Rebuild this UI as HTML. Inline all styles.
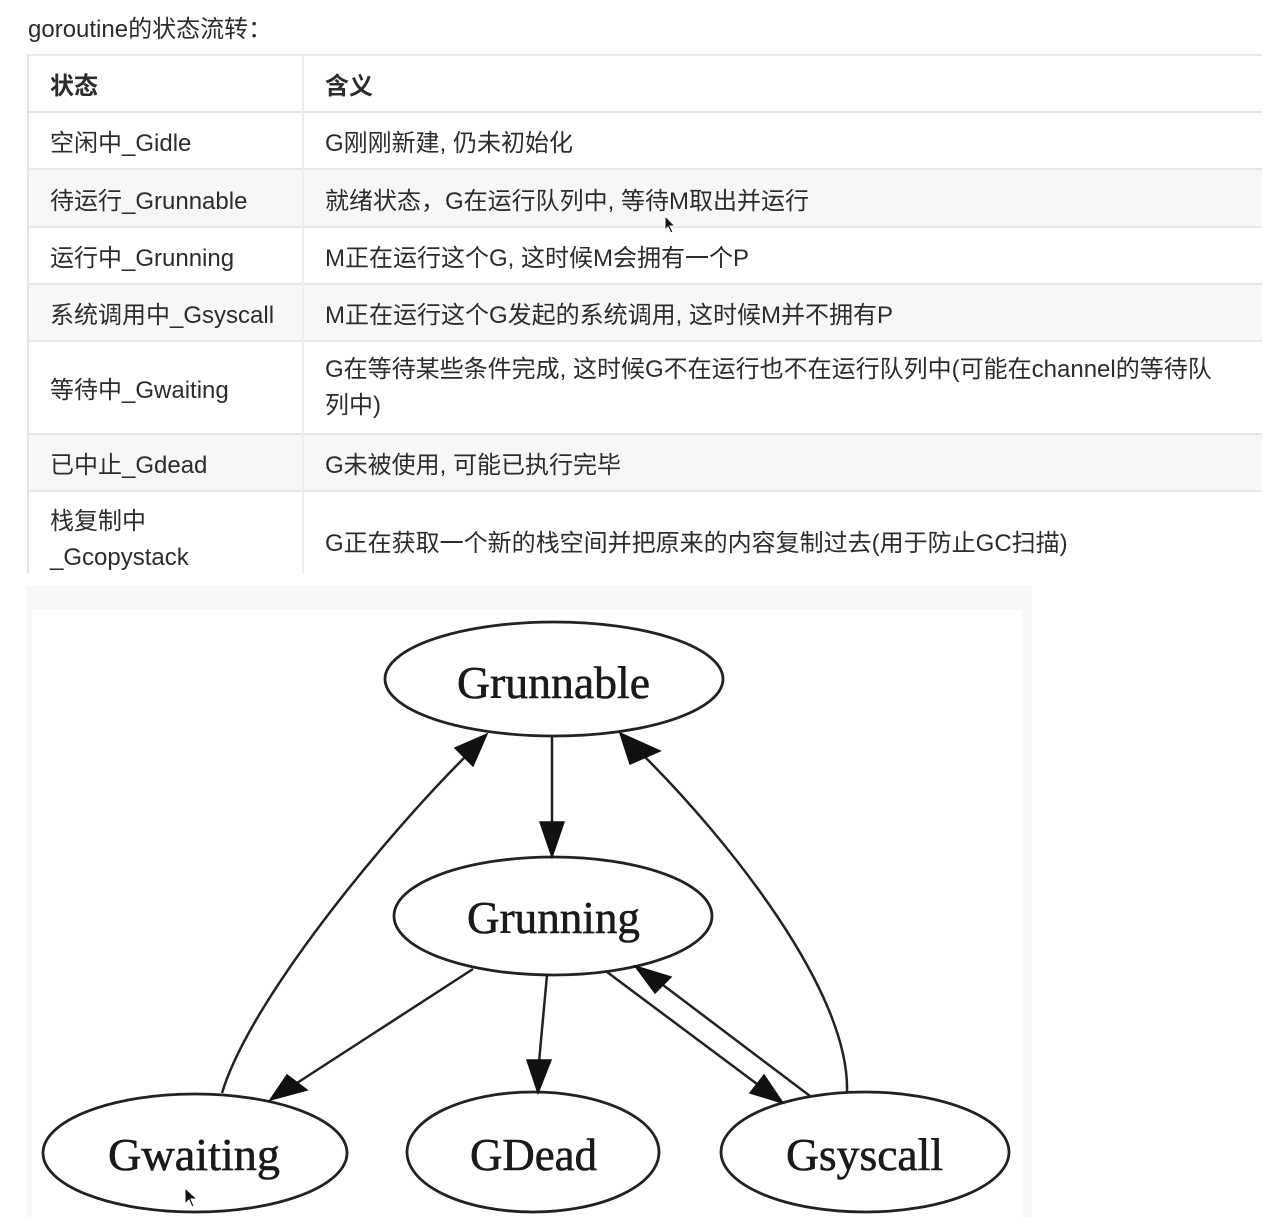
<!DOCTYPE html>
<html>
<head>
<meta charset="utf-8">
<style>
  html,body{margin:0;padding:0;}
  body{width:1280px;height:1232px;background:#fff;position:relative;overflow:hidden;
       font-family:"Liberation Sans","Noto Sans CJK SC",sans-serif;color:#2c2c2c;}
  .title{position:absolute;left:28px;top:14px;font-size:24px;line-height:32px;color:#2c2c2c;white-space:nowrap;}
  .row{position:absolute;left:27px;width:1235px;box-sizing:border-box;border-top:2px solid #e6e7e9;}
  .g{background:#f6f7f9;}
  .c1,.c2{position:absolute;top:0;height:100%;display:flex;align-items:center;font-size:24px;white-space:nowrap;color:#2c2c2c;}
  .c1{left:23px;}
  .c2{left:298px;}
  .b{font-weight:bold;}
  .ml{line-height:36px;}
</style>
</head>
<body>
<div class="title">goroutine的状态流转<span style="letter-spacing:2px">：</span></div>

<div class="row" style="top:54px;height:57px;"><div class="c1 b">状态</div><div class="c2 b">含义</div></div>
<div class="row" style="top:111px;height:57px;"><div class="c1">空闲中_Gidle</div><div class="c2">G刚刚新建, 仍未初始化</div></div>
<div class="row g" style="top:168px;height:58px;"><div class="c1">待运行_Grunnable</div><div class="c2">就绪状态，G在运行队列中, 等待M取出并运行</div></div>
<div class="row" style="top:226px;height:57px;"><div class="c1">运行中_Grunning</div><div class="c2">M正在运行这个G, 这时候M会拥有一个P</div></div>
<div class="row g" style="top:283px;height:57px;"><div class="c1">系统调用中_Gsyscall</div><div class="c2">M正在运行这个G发起的系统调用, 这时候M并不拥有P</div></div>
<div class="row" style="top:340px;height:93px;"><div class="c1">等待中_Gwaiting</div><div class="c2 ml">G在等待某些条件完成, 这时候G不在运行也不在运行队列中(可能在channel的等待队<br>列中)</div></div>
<div class="row g" style="top:433px;height:57px;"><div class="c1">已中止_Gdead</div><div class="c2">G未被使用, 可能已执行完毕</div></div>
<div class="row" style="top:490px;height:83px;"><div class="c1 ml" style="align-items:flex-start;padding-top:12px;height:auto;">栈复制中<br>_Gcopystack</div><div class="c2" style="height:96px;">G正在获取一个新的栈空间并把原来的内容复制过去(用于防止GC扫描)</div></div>
<div style="position:absolute;left:27px;top:54px;width:2px;height:519px;background:#e2e3e5;"></div>
<div style="position:absolute;left:302px;top:54px;width:2px;height:519px;background:#eceef0;"></div>

<!-- diagram background -->
<div style="position:absolute;left:27px;top:586px;width:1005px;height:631px;background:#f7f7f9;"></div>
<div style="position:absolute;left:32px;top:610px;width:990px;height:607px;background:#fff;"></div>

<svg width="1280" height="1232" style="position:absolute;left:0;top:0;" xmlns="http://www.w3.org/2000/svg">
  <g fill="none" stroke="#222" stroke-width="2.8">
    <ellipse cx="554" cy="679" rx="169" ry="57"/>
    <ellipse cx="553" cy="916" rx="159" ry="59"/>
    <ellipse cx="195" cy="1153" rx="152" ry="59"/>
    <ellipse cx="533" cy="1152" rx="126" ry="60"/>
    <ellipse cx="865" cy="1152" rx="144" ry="60"/>
  </g>
  <g fill="none" stroke="#222" stroke-width="2.5">
    <line x1="552" y1="737" x2="552" y2="824"/>
    <path d="M222,1093 C250,1000 385,837 465,757"/>
    <path d="M847,1092 C850,990 725,837 645,757"/>
    <line x1="473" y1="969" x2="297" y2="1083"/>
    <line x1="547" y1="975" x2="539" y2="1062"/>
    <line x1="607" y1="972" x2="757" y2="1084"/>
    <line x1="810" y1="1096" x2="663" y2="985"/>
  </g>
  <g fill="#111" stroke="#111" stroke-width="1.5" stroke-linejoin="miter">
    <polygon points="552,857 540,822 564,822"/>
    <polygon points="487,734 455,748 473,766"/>
    <polygon points="620,733 630,764 660,751"/>
    <polygon points="270,1100 287,1075 307,1090"/>
    <polygon points="538,1093 527,1060 551,1060"/>
    <polygon points="783,1103 750,1093 764,1075"/>
    <polygon points="635,966 655,993 671,977"/>
  </g>
  <g font-family="'Liberation Serif',serif" font-size="46" fill="#1a1a1a" stroke="#1a1a1a" stroke-width="0.6">
    <text x="457" y="698" textLength="193" lengthAdjust="spacingAndGlyphs">Grunnable</text>
    <text x="467" y="933" textLength="173" lengthAdjust="spacingAndGlyphs">Grunning</text>
    <text x="108" y="1170" textLength="172" lengthAdjust="spacingAndGlyphs">Gwaiting</text>
    <text x="470" y="1170" textLength="127" lengthAdjust="spacingAndGlyphs">GDead</text>
    <text x="786" y="1170" textLength="157" lengthAdjust="spacingAndGlyphs">Gsyscall</text>
  </g>
  <!-- cursors -->
  <polygon points="665,216 665,230 668,227 671,233 673,232 670,226 675,226" fill="#111" stroke="#fff" stroke-width="1"/>
  <polygon points="185,1188 185,1204 189,1200 192,1207 194,1206 191,1199 197,1199" fill="#111" stroke="#fff" stroke-width="1"/>
</svg>
</body>
</html>
